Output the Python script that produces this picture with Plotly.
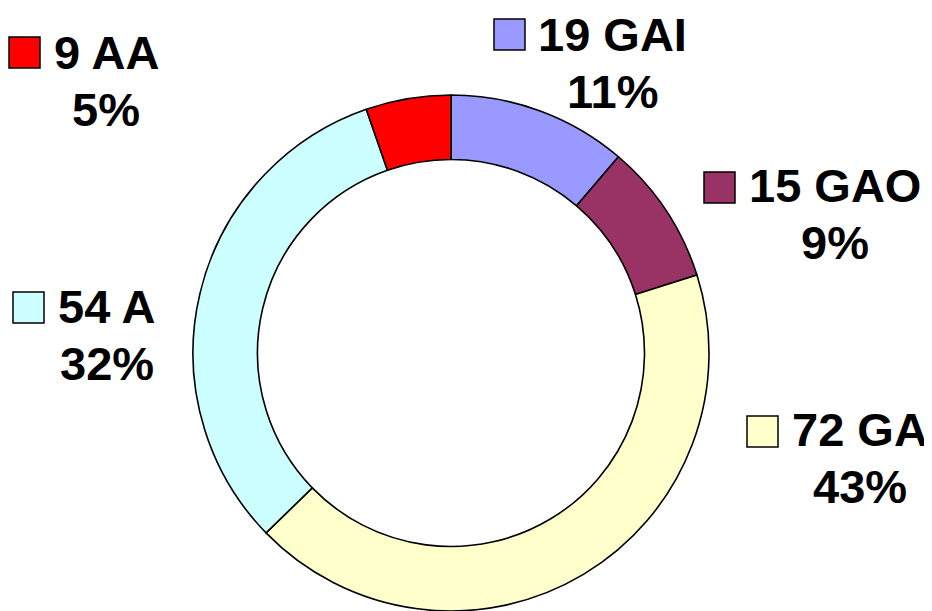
import plotly.graph_objects as go

# ---- data ----
labels = ["GAI", "GAO", "GA", "A", "AA"]
values = [19, 15, 72, 54, 9]
colors = ["#9999FF", "#993366", "#FFFFCC", "#CCFFFF", "#FF0000"]

total = sum(values)
percents = [round(v / total * 100) for v in values]

# page has an 8px body margin; figure sized to fit inside the window
OFF = 8
W, H = 932 - OFF, 611 - OFF

# label layout (pixel positions in the window): square left/top, text center x, first baseline
label_pos = {
    "GAI": dict(sq=(494, 19), cx=612, base=51),
    "GAO": dict(sq=(704, 172), cx=835, base=202),
    "GA": dict(sq=(747, 416), cx=860, base=446),
    "A": dict(sq=(13, 292), cx=107, base=323),
    "AA": dict(sq=(9, 37), cx=106, base=69),
}
FS = 47
LINE_GAP = 57
SQ = 31

CX, CY, R = 451, 353, 258  # donut centre / radius in window pixels


def px(x):
    return (x - OFF) / W


def py(y):
    return 1 - (y - OFF) / H


fig = go.Figure(
    go.Pie(
        labels=labels,
        values=values,
        marker=dict(colors=colors, line=dict(color="black", width=1.6)),
        hole=0.75,
        sort=False,
        direction="clockwise",
        rotation=0,
        textinfo="none",
        hoverinfo="label+value+percent",
        domain=dict(x=[px(CX - R), px(CX + R)], y=[0, 2 * R / H]),
    )
)

annotations = []
shapes = []
font = dict(family="Liberation Sans, Arial, sans-serif", size=FS, color="black")
for lab, val, pct, col in zip(labels, values, percents, colors):
    p = label_pos[lab]
    sx, sy = p["sq"]
    shapes.append(dict(
        type="rect", xref="paper", yref="paper",
        x0=px(sx), x1=px(sx + SQ), y0=py(sy + SQ), y1=py(sy),
        line=dict(color="black", width=1.5), fillcolor=col, layer="above",
    ))
    for i, txt in enumerate([f"<b>{val} {lab}</b>", f"<b>{pct}%</b>"]):
        base = p["base"] + i * LINE_GAP
        annotations.append(dict(
            xref="paper", yref="paper", x=px(p["cx"]), y=py(base - 16.5),
            xanchor="center", yanchor="middle", showarrow=False,
            borderpad=0, text=txt, font=font,
        ))

fig.update_layout(
    width=W, height=H,
    margin=dict(l=0, r=0, t=0, b=0),
    paper_bgcolor="white", plot_bgcolor="white",
    showlegend=False,
    annotations=annotations,
    shapes=shapes,
)

fig.write_html("out.html")
